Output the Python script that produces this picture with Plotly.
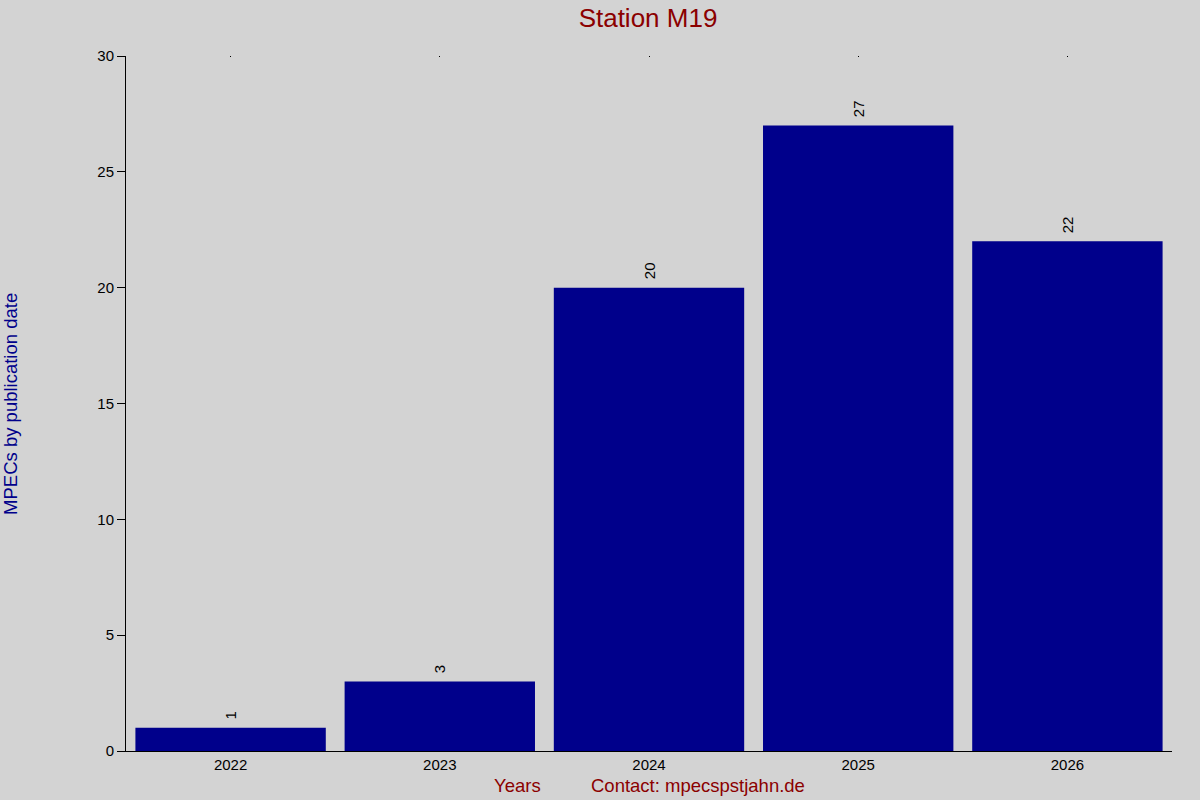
import plotly.graph_objects as go

years = ["2022", "2023", "2024", "2025", "2026"]
counts = [1, 3, 20, 27, 22]
y_ticks = [0, 5, 10, 15, 20, 25, 30]

FONT = "Liberation Sans, Arial, sans-serif"

fig = go.Figure()
fig.add_trace(go.Bar(
    x=years, y=counts,
    marker=dict(color="#00008B", line=dict(width=0)),
    width=0.91,
    showlegend=False,
    hoverinfo="x+y",
))
# invisible trace for the small top tick dots
fig.add_trace(go.Scatter(
    x=list(range(len(years))), y=counts, xaxis="x2", mode="none",
    showlegend=False, hoverinfo="skip",
))

annotations = [
    dict(text=str(c), x=i, y=c, xref="x", yref="y", showarrow=False,
         textangle=-90, xanchor="center", yanchor="bottom", yshift=6,
         font=dict(family=FONT, size=15, color="black"))
    for i, c in enumerate(counts)
]
annotations += [
    dict(text="MPECs by publication date", xref="paper", yref="paper",
         x=-0.1105, y=0.5, textangle=-90, showarrow=False,
         xanchor="center", yanchor="middle",
         font=dict(family=FONT, size=18.5, color="#00008B")),
    dict(text="Years", xref="paper", yref="paper",
         x=(517 - 126) / 1046, y=-35 / 695, showarrow=False,
         xanchor="center", yanchor="middle",
         font=dict(family=FONT, size=18.5, color="#8B0000")),
    dict(text="Contact: mpecspstjahn.de", xref="paper", yref="paper",
         x=(698 - 126) / 1046, y=-35 / 695, showarrow=False,
         xanchor="center", yanchor="middle",
         font=dict(family=FONT, size=18.5, color="#8B0000")),
]

fig.update_layout(
    width=1200, height=800,
    paper_bgcolor="#D3D3D3", plot_bgcolor="#D3D3D3",
    margin=dict(l=126, r=28, t=56, b=49),
    font=dict(family=FONT, size=15, color="black"),
    title=dict(text="Station M19", x=0.54, xanchor="center", y=0.978, yanchor="middle",
               font=dict(family=FONT, size=26, color="#8B0000")),
    bargap=0.09,
    xaxis=dict(
        type="category", range=[-0.5, 4.5],
        showline=True, linecolor="black", linewidth=1,
        ticks="", showgrid=False, zeroline=False,
        tickfont=dict(family=FONT, size=15, color="black"),
    ),
    xaxis2=dict(
        overlaying="x", side="top", anchor="y", range=[-0.5, 4.5],
        tickvals=list(range(len(years))), ticks="inside", ticklen=1,
        tickcolor="black", showticklabels=False, showline=False,
        showgrid=False, zeroline=False,
    ),
    yaxis=dict(
        range=[0, 30], tickvals=y_ticks,
        showline=True, linecolor="black", linewidth=1,
        ticks="outside", ticklen=8, tickcolor="black",
        showgrid=False, zeroline=False,
        tickfont=dict(family=FONT, size=15, color="black"),
    ),
    annotations=annotations,
)

fig.write_html(
    "out.html",
    config={"displayModeBar": False},
    post_script="document.body.style.margin='0';document.body.style.overflow='hidden';",
)
